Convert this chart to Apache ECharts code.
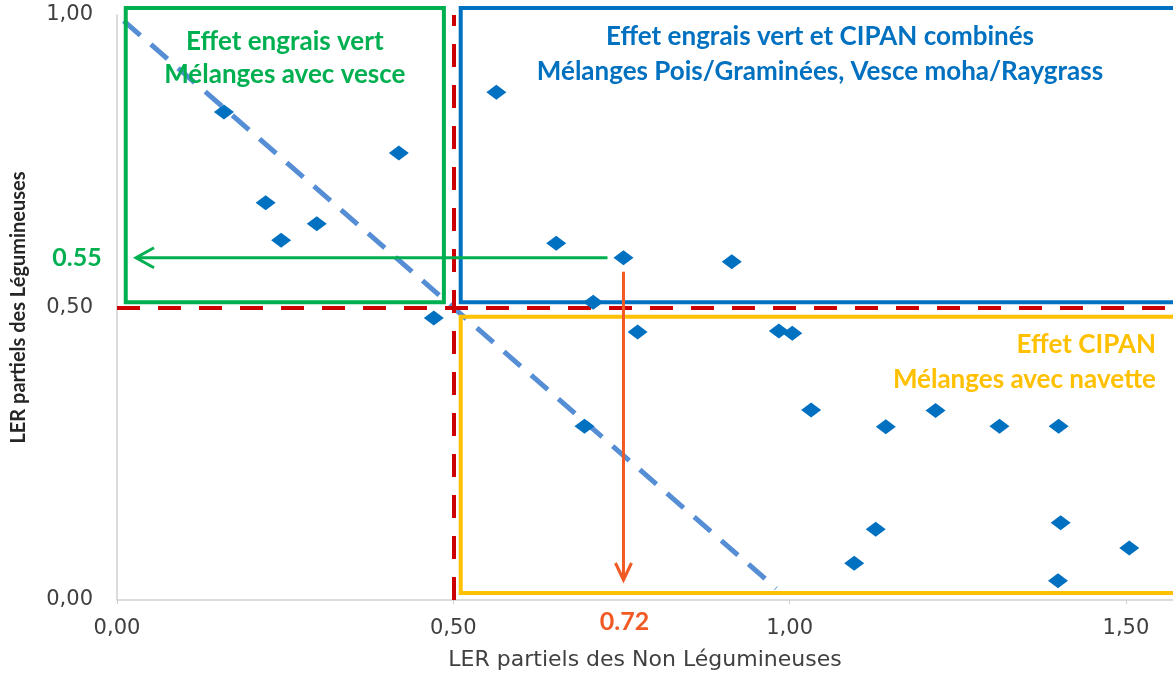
<!DOCTYPE html>
<html>
<head>
<meta charset="utf-8">
<script src="https://cdn.jsdelivr.net/npm/echarts@6/dist/echarts.min.js"></script>
<style>
  html, body { margin: 0; padding: 0; background: #fff; }
  #chart { width: 1173px; height: 673px; }
</style>
</head>
<body>
<div id="chart"></div>
<script>
// LER partiels : non légumineuses (x) / légumineuses (y)
const lerNonLeg = [0.159, 0.221, 0.244, 0.297, 0.419, 0.471, 0.564, 0.653, 0.753, 0.708, 0.695, 0.774, 0.914,
  0.984, 1.004, 1.032, 1.143, 1.217, 1.312, 1.400, 1.128, 1.096, 1.403, 1.505, 1.399]
const lerLeg = [0.834, 0.679, 0.615, 0.643, 0.764, 0.482, 0.868, 0.610, 0.585, 0.509, 0.297, 0.458, 0.578,
  0.460, 0.456, 0.325, 0.296, 0.324, 0.297, 0.297, 0.121, 0.063, 0.132, 0.089, 0.033]

// droite LER total = 1
const totalX = [0.01, 0.98]
const totalY = [0.99, 0.02]

// axes (l'image est coupée à droite vers 1,57)
const xMin = 0, xMax = 1.57, yMin = 0, yMax = 1, tickStep = 0.5
const threshold = 0.5

// point repéré par les flèches et ses étiquettes
const refPoint = 8
const refLabelY = '0.55'
const refLabelX = '0.72'

const FONT = 'Lato, "Open Sans", sans-serif'
const GREEN = '#00B050', BLUE = '#0070C0', YELLOW = '#FFC000', RED = '#CC0000', ORANGE = '#F15A24'

const fmt = v => v.toFixed(2).replace('.', ',')

let chart = echarts.init(document.getElementById('chart'))

const option = {
  animation: false,
  grid: { left: 117, top: 15, right: 0, bottom: 73, outerBoundsMode: 'none' },
  xAxis: {
    type: 'value', min: xMin, max: xMax, interval: tickStep,
    name: 'LER partiels des Non Légumineuses',
    nameLocation: 'middle', nameGap: 49,
    nameTextStyle: { fontFamily: '"DejaVu Sans"', fontSize: 22, color: '#404040' },
    axisLine: { lineStyle: { color: '#d0d0d0', width: 1.5 } },
    axisTick: { show: true, length: 4, lineStyle: { color: '#d0d0d0' } },
    splitLine: { show: false },
    axisLabel: { formatter: fmt, showMaxLabel: false, margin: 18, fontFamily: '"DejaVu Sans"', fontSize: 21, color: '#404040' }
  },
  yAxis: {
    type: 'value', min: yMin, max: yMax, interval: tickStep,
    name: 'LER partiels des Légumineuses',
    nameLocation: 'middle', nameGap: 88,
    nameTextStyle: { fontFamily: FONT, fontSize: 20, fontWeight: 'bold', color: '#262626' },
    axisLine: { show: true, lineStyle: { color: '#d0d0d0', width: 1.5 } },
    axisTick: { show: false },
    splitLine: { show: false },
    axisLabel: { formatter: fmt, margin: 24, fontFamily: '"DejaVu Sans"', fontSize: 21, color: '#404040' }
  },
  series: [
    {
      type: 'line',
      data: totalX.map((x, i) => [x, totalY[i]]),
      symbol: 'none',
      lineStyle: { color: '#558ED5', width: 5, type: [22, 14] },
      z: 2
    },
    {
      type: 'scatter',
      data: lerNonLeg.map((x, i) => [x, lerLeg[i]]),
      symbol: 'diamond',
      symbolSize: [20, 15],
      itemStyle: { color: BLUE, opacity: 1 },
      z: 5,
      markLine: {
        silent: true,
        symbol: 'none',
        label: { show: false },
        lineStyle: { color: RED, width: 4, type: [23, 18] },
        data: [{ xAxis: threshold }, { yAxis: threshold }]
      }
    }
  ]
}
chart.setOption(option)

// annotations (cadres, textes, flèches) positionnées en coordonnées de données
const px = (x, y) => chart.convertToPixel({ gridIndex: 0 }, [x, y])

function box(x0, y0, x1, y1, color) {
  let a = px(x0, y0), b = px(x1, y1)
  return {
    type: 'rect', z: 10,
    shape: { x: a[0], y: a[1], width: b[0] - a[0], height: b[1] - a[1] },
    style: { fill: 'none', stroke: color, lineWidth: 4 }
  }
}
function label(x, y, text, color, align, size) {
  return {
    type: 'text', z: 11, x: x, y: y,
    style: { text: text, fill: color, align: align || 'center', verticalAlign: 'middle',
      font: 'bold ' + (size || 26) + 'px ' + FONT }
  }
}

const p = px(lerNonLeg[refPoint], lerLeg[refPoint])
const green = px(0.013, 1.012), greenEnd = px(0.486, 0.509)
const blue = px(0.511, 1.012)
const yellow = px(0.511, 0.484)
const bottom = px(0, 0)

chart.setOption({
  graphic: [
    box(0.013, 1.012, 0.486, 0.509, GREEN),
    box(0.511, 1.012, 1.62, 0.509, BLUE),
    box(0.511, 0.484, 1.62, 0.012, YELLOW),
    label((green[0] + greenEnd[0]) / 2, green[1] + 34, 'Effet engrais vert', GREEN),
    label((green[0] + greenEnd[0]) / 2, green[1] + 67, 'Mélanges avec vesce', GREEN),
    label(820, blue[1] + 29, 'Effet engrais vert et CIPAN combinés', BLUE),
    label(820, blue[1] + 64, 'Mélanges Pois/Graminées, Vesce moha/Raygrass', BLUE),
    label(1156, yellow[1] + 28, 'Effet CIPAN', YELLOW, 'right'),
    label(1156, yellow[1] + 63, 'Mélanges avec navette', YELLOW, 'right'),
    // flèche verte horizontale
    { type: 'line', z: 12, shape: { x1: p[0] - 16, y1: p[1], x2: 136, y2: p[1] }, style: { stroke: GREEN, lineWidth: 3 } },
    { type: 'polyline', z: 12, shape: { points: [[154, p[1] - 10], [136, p[1]], [154, p[1] + 10]] },
      style: { fill: 'none', stroke: GREEN, lineWidth: 3 } },
    label(77, p[1], refLabelY, GREEN, 'center', 25),
    // flèche orange verticale
    { type: 'line', z: 12, shape: { x1: p[0], y1: p[1] + 14, x2: p[0], y2: bottom[1] - 20 }, style: { stroke: ORANGE, lineWidth: 3 } },
    { type: 'polyline', z: 12, shape: { points: [[p[0] - 8, bottom[1] - 37], [p[0], bottom[1] - 20], [p[0] + 8, bottom[1] - 37]] },
      style: { fill: 'none', stroke: ORANGE, lineWidth: 3 } },
    label(p[0] + 1, bottom[1] + 22, refLabelX, ORANGE, 'center', 25)
  ]
})
</script>
</body>
</html>
